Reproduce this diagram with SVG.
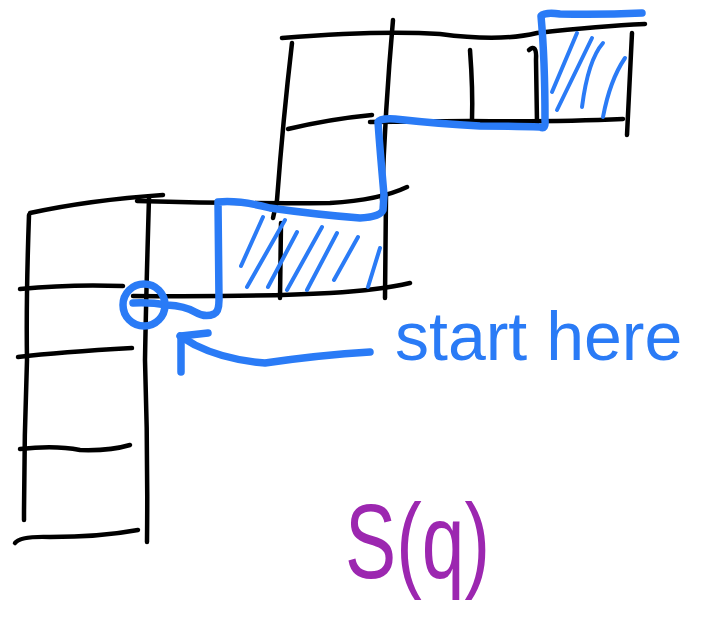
<svg xmlns="http://www.w3.org/2000/svg" width="702" height="633" viewBox="0 0 702 633">
<style>
.ink{fill:none;stroke:#000;stroke-width:4.5;stroke-linecap:round;stroke-linejoin:round}
.blue{fill:none;stroke:#2a7bf6;stroke-width:7.5;stroke-linecap:round;stroke-linejoin:round}
.hatch{fill:none;stroke:#2a7bf6;stroke-width:4;stroke-linecap:round}
.lbl{font-family:"Liberation Sans","DejaVu Sans",sans-serif}
</style>
<rect width="702" height="633" fill="#fff"/>
<g id="grid">
<!-- left column -->
<path class="ink" d="M29,215 Q26,300 27,360 Q24,440 24,520"/>
<path class="ink" d="M30,213 Q90,200 163,195"/>
<path class="ink" d="M20,289 Q70,284 123,286"/>
<path class="ink" d="M18,357 Q60,352 132,348"/>
<path class="ink" d="M20,449 Q55,445 80,450 Q110,451 130,445"/>
<path class="ink" d="M15,543 Q20,536 50,537 Q100,537 138,530"/>
<path class="ink" d="M149,198 Q146,300 145,360 Q148,450 147,542"/>
<!-- middle tier -->
<path class="ink" d="M137,201 Q250,204 330,203 Q380,200 407,187"/>
<path class="ink" d="M133,296 Q260,297 330,293 Q380,290 410,283"/>
<path class="ink" d="M281,223 L280,298"/>
<path class="ink" d="M386,196 L385,298"/>
<path class="ink" d="M292,43 Q283,120 277,200 L273,218"/>
<path class="ink" d="M393,20 Q385,110 382,200"/>
<!-- top tier -->
<path class="ink" d="M282,38 Q380,30 440,34 Q500,42 537,33 Q600,26 645,24"/>
<path class="ink" d="M288,129 Q330,119 372,115"/>
<path class="ink" d="M370,122 L470,121 Q560,122 623,119"/>
<path class="ink" d="M470,50 Q473,90 472,120"/>
<path class="ink" d="M529,50 Q537,43 536,60 L537,123"/>
<path class="ink" d="M632,33 L627,135"/>
</g>
<g id="hatching">
<path class="hatch" d="M241,266 L263,217"/>
<path class="hatch" d="M247,287 L285,220"/>
<path class="hatch" d="M268,287 L297,232"/>
<path class="hatch" d="M287,290 L322,227"/>
<path class="hatch" d="M307,290 L337,233"/>
<path class="hatch" d="M334,280 L358,237"/>
<path class="hatch" d="M368,287 L380,248"/>
<path class="hatch" d="M552,92 L577,33"/>
<path class="hatch" d="M557,110 L592,38"/>
<path class="hatch" d="M582,107 Q588,60 603,43"/>
<path class="hatch" d="M603,117 Q610,80 625,58"/>
</g>
<g id="path">
<path class="blue" d="M133,303 Q150,302 167,305 Q185,306 195,312 Q205,318 214,314 Q219,312 219,300 L218,202 Q240,200 270,208 Q320,215 360,218 Q380,217 383,210 L384,195 Q380,150 378,122 Q380,118 395,119 Q440,124 480,126 Q520,126 540,127 Q546,130 545,120 Q545,60 541,16 Q545,12 560,14 Q600,15 642,13"/>
<circle class="blue" cx="144" cy="305" r="21"/>
</g>
<g id="arrow">
<path class="blue" d="M370,352 Q320,355 265,363 Q225,360 195,345 L180,336"/>
<path class="blue" d="M181,336 L181,372 M181,336 L208,333"/>
</g>
<text class="lbl" x="395" y="360" font-size="68" fill="#2a7bf6">start here</text>
<text class="lbl" x="345" y="578" font-size="105" fill="#9c27b0" textLength="145" lengthAdjust="spacingAndGlyphs">S(q)</text>
</svg>
